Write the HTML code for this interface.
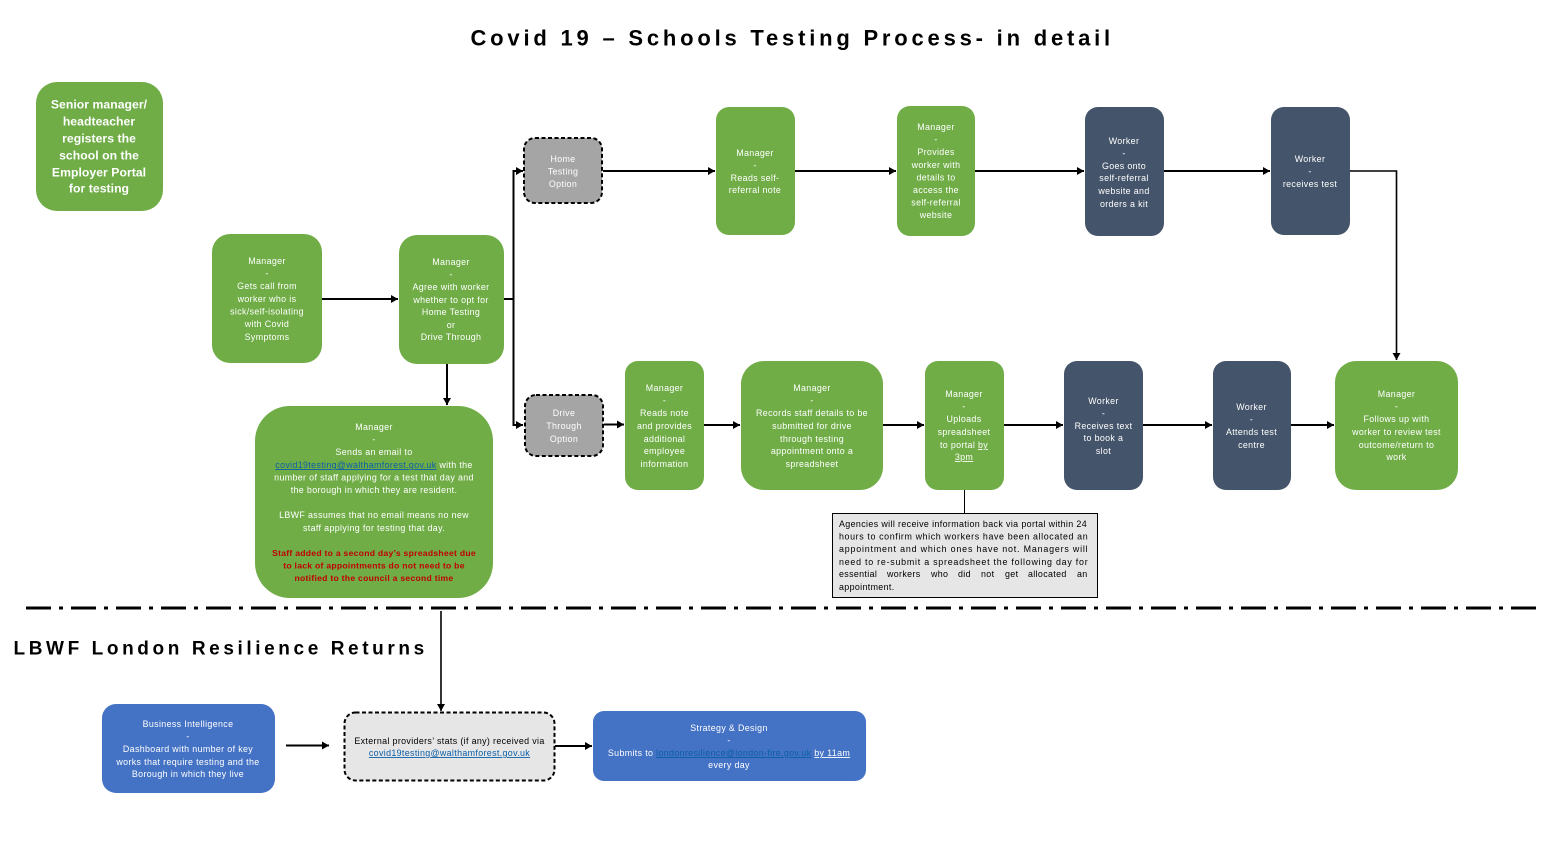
<!DOCTYPE html>
<html lang="en"><head><meta charset="utf-8"><title>Covid 19 – Schools Testing Process</title>
<style>
html,body{margin:0;padding:0;background:#fff;width:1559px;height:850px;overflow:hidden}
svg{display:block}
text{font-family:"Liberation Sans",sans-serif;font-size:8.9px;letter-spacing:.35px;fill:#fff;text-anchor:middle}
.k{fill:#000}
.l{text-anchor:start;fill:#000}
.b{font-weight:bold;font-size:12.2px;letter-spacing:.05px}
.r{fill:#c00000;font-weight:bold;font-size:8.6px;letter-spacing:.27px}
.u{text-decoration:underline}
.a{fill:#0b5fa8;text-decoration:underline}
.c{stroke:#000;stroke-width:2;fill:none}
</style></head><body>
<svg width="1559" height="850" viewBox="0 0 1559 850" xmlns="http://www.w3.org/2000/svg">
<defs><marker id="h" markerUnits="userSpaceOnUse" markerWidth="8" markerHeight="9" refX="7" refY="4" orient="auto"><path d="M0 0L7 4L0 8Z" fill="#000"/></marker></defs>

<text x="790.500" y="45.500" class="k" style="font-size:22px;font-weight:bold" textLength="640" lengthAdjust="spacing">Covid 19 – Schools Testing Process- in detail</text>
<text x="219" y="654.500" class="k" style="font-size:19px;font-weight:bold" textLength="411" lengthAdjust="spacing">LBWF London Resilience Returns</text>

<!-- connectors -->
<path class="c" d="M322 299H398" marker-end="url(#h)"/>
<path class="c" d="M504 299H513.500"/>
<path class="c" d="M513.500 171V425H523" marker-end="url(#h)"/>
<path class="c" d="M512.500 171H523" marker-end="url(#h)"/>
<path class="c" d="M447 364V405" marker-end="url(#h)"/>
<path class="c" d="M603 171H715" marker-end="url(#h)"/>
<path class="c" d="M795 171H896" marker-end="url(#h)"/>
<path class="c" d="M975 171H1084" marker-end="url(#h)"/>
<path class="c" d="M1164 171H1270" marker-end="url(#h)"/>
<path class="c" d="M1350 171H1396.500V360" style="stroke-width:1.6" marker-end="url(#h)"/>
<path class="c" d="M604 424.500H624" marker-end="url(#h)"/>
<path class="c" d="M704 425H740" marker-end="url(#h)"/>
<path class="c" d="M883 425H924" marker-end="url(#h)"/>
<path class="c" d="M1004 425H1063" marker-end="url(#h)"/>
<path class="c" d="M1143 425H1212" marker-end="url(#h)"/>
<path class="c" d="M1291 425H1334" marker-end="url(#h)"/>
<path d="M964.500 490V513" stroke="#000" stroke-width="1"/>
<path d="M441 611V711" stroke="#000" stroke-width="1.600" marker-end="url(#h)"/>
<path class="c" d="M286 745.500H329" marker-end="url(#h)"/>
<path class="c" d="M555 746H592" marker-end="url(#h)"/>
<path d="M26 608H1536" stroke="#000" stroke-width="3" stroke-dasharray="25 8 4 8"/>

<!-- green boxes -->
<g fill="#70ad47">
<rect x="36" y="82" width="127" height="129" rx="21"/>
<rect x="212" y="234" width="110" height="129" rx="18"/>
<rect x="399" y="235" width="105" height="129" rx="18"/>
<rect x="255" y="406" width="238" height="192" rx="35"/>
<rect x="716" y="107" width="79" height="128" rx="13"/>
<rect x="897" y="106" width="78" height="130" rx="13"/>
<rect x="625" y="361" width="79" height="129" rx="13"/>
<rect x="741" y="361" width="142" height="129" rx="23"/>
<rect x="925" y="361" width="79" height="129" rx="13"/>
<rect x="1335" y="361" width="123" height="129" rx="21"/>
</g>
<g fill="#44546a">
<rect x="1085" y="107" width="79" height="129" rx="13"/>
<rect x="1271" y="107" width="79" height="128" rx="13"/>
<rect x="1064" y="361" width="79" height="129" rx="13"/>
<rect x="1213" y="361" width="78" height="129" rx="13"/>
</g>
<g fill="#a5a5a5" stroke="#000" stroke-width="2" stroke-dasharray="4 2.500">
<rect x="524" y="138" width="78" height="65" rx="11"/>
<rect x="525" y="395" width="78" height="61" rx="11"/>
</g>
<rect x="344.500" y="712.500" width="210" height="68" rx="11" fill="#e7e6e6" stroke="#000" stroke-width="2" stroke-dasharray="4 2.500"/>
<rect x="102" y="704" width="173" height="89" rx="14" fill="#4472c4"/>
<rect x="593" y="711" width="273" height="70" rx="11" fill="#4472c4"/>
<rect x="832.500" y="513.500" width="265" height="84" fill="#e7e6e6" stroke="#000" stroke-width="1"/>

<!-- text -->
<g class="t">
<text class="b" x="99" y="108.500">Senior manager/</text>
<text class="b" x="99" y="125.500">headteacher</text>
<text class="b" x="99" y="142.500">registers the</text>
<text class="b" x="99" y="159.500">school on the</text>
<text class="b" x="99" y="176.500">Employer Portal</text>
<text class="b" x="99" y="192.500">for testing</text>

<text x="267" y="264">Manager</text><text x="267" y="276.500">-</text>
<text x="267" y="289">Gets call from</text><text x="267" y="302">worker who is</text>
<text x="267" y="314.500">sick/self-isolating</text><text x="267" y="327">with Covid</text><text x="267" y="340">Symptoms</text>

<text x="451" y="265">Manager</text><text x="451" y="277.500">-</text>
<text x="451" y="290">Agree with worker</text><text x="451" y="303">whether to opt for</text>
<text x="451" y="315">Home Testing</text><text x="451" y="328">or</text><text x="451" y="340">Drive Through</text>

<text x="374" y="430">Manager</text><text x="374" y="442.500">-</text>
<text x="374" y="455">Sends an email to</text>
<text x="374" y="468"><tspan class="a">covid19testing@walthamforest.gov.uk</tspan> with the</text>
<text x="374" y="480.500">number of staff applying for a test that day and</text>
<text x="374" y="493">the borough in which they are resident.</text>
<text x="374" y="518">LBWF assumes that no email means no new</text>
<text x="374" y="531">staff applying for testing that day.</text>
<text class="r" x="374" y="556">Staff added to a second day’s spreadsheet due</text>
<text class="r" x="374" y="568.500">to lack of appointments do not need to be</text>
<text class="r" x="374" y="581">notified to the council a second time</text>

<text x="563" y="162">Home</text><text x="563" y="174.500">Testing</text><text x="563" y="187">Option</text>
<text x="564" y="416">Drive</text><text x="564" y="429">Through</text><text x="564" y="442">Option</text>

<text x="755" y="156">Manager</text><text x="755" y="168.500">-</text><text x="755" y="181">Reads self-</text><text x="755" y="193">referral note</text>

<text x="936" y="130">Manager</text><text x="936" y="142.500">-</text><text x="936" y="155">Provides</text><text x="936" y="168">worker with</text><text x="936" y="180.500">details to</text><text x="936" y="193">access the</text><text x="936" y="205.500">self-referral</text><text x="936" y="218">website</text>

<text x="1124" y="144">Worker</text><text x="1124" y="156.500">-</text><text x="1124" y="169">Goes onto</text><text x="1124" y="181">self-referral</text><text x="1124" y="194">website and</text><text x="1124" y="207">orders a kit</text>

<text x="1310" y="162">Worker</text><text x="1310" y="174.500">-</text><text x="1310" y="187">receives test</text>

<text x="664.500" y="391">Manager</text><text x="664.500" y="403.500">-</text><text x="664.500" y="416">Reads note</text><text x="664.500" y="429">and provides</text><text x="664.500" y="442">additional</text><text x="664.500" y="454">employee</text><text x="664.500" y="467">information</text>

<text x="812" y="391">Manager</text><text x="812" y="403.500">-</text><text x="812" y="416">Records staff details to be</text><text x="812" y="429">submitted for drive</text><text x="812" y="442">through testing</text><text x="812" y="454">appointment onto a</text><text x="812" y="467">spreadsheet</text>

<text x="964" y="397">Manager</text><text x="964" y="409.500">-</text><text x="964" y="422">Uploads</text><text x="964" y="435">spreadsheet</text><text x="964" y="448">to portal <tspan class="u">by</tspan></text><text x="964" y="460" class="u">3pm</text>

<text x="1103.500" y="404">Worker</text><text x="1103.500" y="416.500">-</text><text x="1103.500" y="429">Receives text</text><text x="1103.500" y="441">to book a</text><text x="1103.500" y="454">slot</text>

<text x="1251.500" y="410">Worker</text><text x="1251.500" y="422.500">-</text><text x="1251.500" y="435">Attends test</text><text x="1251.500" y="448">centre</text>

<text x="1396.500" y="397">Manager</text><text x="1396.500" y="409.500">-</text><text x="1396.500" y="422">Follows up with</text><text x="1396.500" y="435">worker to review test</text><text x="1396.500" y="448">outcome/return to</text><text x="1396.500" y="460">work</text>

<text class="l" x="839" y="527" textLength="248">Agencies will receive information back via portal within 24</text>
<text class="l" x="839" y="539.500" textLength="249">hours to confirm which workers have been allocated an</text>
<text class="l" x="839" y="552" textLength="249">appointment and which ones have not.  Managers will</text>
<text class="l" x="839" y="565" textLength="249">need to re-submit a spreadsheet the following day for</text>
<text class="l" y="577"><tspan x="839">essential</tspan> <tspan x="887">workers</tspan> <tspan x="931">who</tspan> <tspan x="958">did</tspan> <tspan x="981">not</tspan> <tspan x="1005">get</tspan> <tspan x="1028">allocated</tspan> <tspan x="1077">an</tspan></text>
<text class="l" x="839" y="590">appointment.</text>

<text x="188" y="727">Business Intelligence</text><text x="188" y="739.500">-</text><text x="188" y="752">Dashboard with number of key</text><text x="188" y="765">works that require testing and the</text><text x="188" y="777">Borough in which they live</text>

<text class="k" x="449.500" y="744">External providers’ stats (if any) received via</text>
<text class="k" x="449.500" y="756"><tspan class="a">covid19testing@walthamforest.gov.uk</tspan></text>

<text x="729" y="731">Strategy &amp; Design</text><text x="729" y="743.500">-</text>
<text x="729" y="756">Submits to <tspan class="a">londonresilience@london-fire.gov.uk</tspan> <tspan class="u">by 11am</tspan></text>
<text x="729" y="768">every day</text>
</g>
</svg>
</body></html>
